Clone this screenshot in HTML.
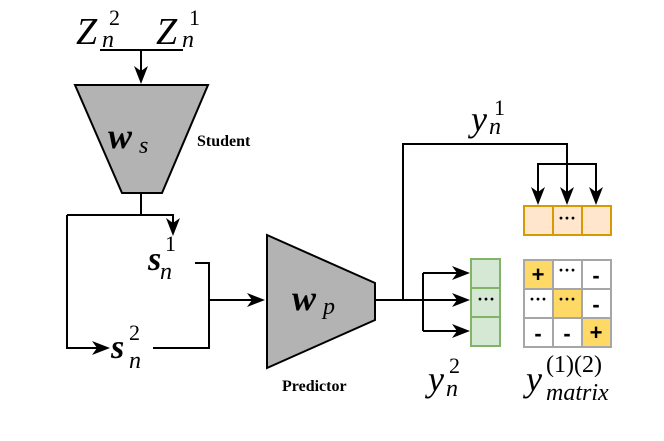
<!DOCTYPE html>
<html><head><style>html,body{margin:0;padding:0;background:#fff}svg{display:block}</style></head><body>
<svg width="664" height="441" viewBox="0 0 664 441" xmlns="http://www.w3.org/2000/svg" font-family="Liberation Serif, serif">
<g stroke="#000" stroke-width="2" fill="none">
<path d="M100,50 H183"/>
<path d="M141,50 V75"/>
<path d="M141,193 V215 M67,215 H173 V226"/>
<path d="M67,215 V348 H100"/>
<path d="M195,263 H209 V348 H153"/>
<path d="M209,300 H255"/>
<path d="M375,300 H423 M403,300 V144 H567 V196"/>
<path d="M538,196 V164 H596 V196"/>
<path d="M423,273 V331"/>
<path d="M423,273 H460 M423,300 H460 M423,331 H460"/>
</g>
<g fill="#000">
<polygon points="134,66 141,84 148,66 141,71"/>
<polygon points="166,218 173,236 180,218 173,223"/>
<polygon points="531,187 538,205 545,187 538,192"/>
<polygon points="560,187 567,205 574,187 567,192"/>
<polygon points="589,187 596,205 603,187 596,192"/>
<polygon points="92,341 110,348 92,355 97,348"/>
<polygon points="247,293 265,300 247,307 252,300"/>
<polygon points="452,266 470,273 452,280 457,273"/>
<polygon points="452,293 470,300 452,307 457,300"/>
<polygon points="452,324 470,331 452,338 457,331"/>
</g>
<polygon points="75,85 208,85 162,193 122,193" fill="#b3b3b3" stroke="#000" stroke-width="2"/>
<polygon points="267,235 375,283 375,320 267,368" fill="#b3b3b3" stroke="#000" stroke-width="2"/>
<g fill="#ffe6cc" stroke="#d79b00" stroke-width="2">
<rect x="524" y="206" width="29" height="29"/><rect x="553" y="206" width="29" height="29"/><rect x="582" y="206" width="29" height="29"/></g>
<g fill="#d5e8d4" stroke="#82b366" stroke-width="2">
<rect x="471" y="259" width="29" height="29"/><rect x="471" y="288" width="29" height="29"/><rect x="471" y="317" width="29" height="29"/></g>
<g stroke="#a6a6a6" stroke-width="2">
<rect x="524" y="260" width="29" height="29" fill="#ffd966"/><rect x="553" y="260" width="29" height="29" fill="#fff"/><rect x="582" y="260" width="29" height="29" fill="#fff"/>
<rect x="524" y="289" width="29" height="29" fill="#fff"/><rect x="553" y="289" width="29" height="29" fill="#ffd966"/><rect x="582" y="289" width="29" height="29" fill="#fff"/>
<rect x="524" y="318" width="29" height="29" fill="#fff"/><rect x="553" y="318" width="29" height="29" fill="#fff"/><rect x="582" y="318" width="29" height="29" fill="#ffd966"/></g>
<g font-family="Liberation Sans, sans-serif" font-size="22" font-weight="bold" text-anchor="middle">
<text x="538" y="282">+</text><text x="596" y="340">+</text>
<text x="596" y="283">-</text><text x="596" y="312">-</text><text x="538" y="341">-</text><text x="567" y="341">-</text>
</g>
<g font-size="18" font-weight="bold" text-anchor="middle">
<text x="567" y="224">···</text><text x="486" y="305">···</text>
<text x="567" y="276">···</text><text x="538" y="305">···</text><text x="567" y="305">···</text>
</g>
<g font-weight="bold" font-size="16">
<text x="197" y="146">Student</text><text x="282" y="391">Predictor</text></g>
<g font-style="italic">
<text x="76" y="44" font-size="38">Z</text><text x="109" y="25" font-size="22" font-style="normal">2</text><text x="102" y="47" font-size="24">n</text>
<text x="156" y="44" font-size="38">Z</text><text x="189" y="25" font-size="22" font-style="normal">1</text><text x="182" y="47" font-size="24">n</text>
<text x="108" y="148" font-size="36" font-weight="bold">w</text><text x="139" y="153" font-size="24">s</text>
<text x="292" y="310" font-size="36" font-weight="bold">w</text><text x="323" y="314" font-size="24">p</text>
<text x="148" y="270" font-size="34" font-weight="bold">s</text><text x="165" y="251" font-size="22" font-style="normal">1</text><text x="160" y="279" font-size="24">n</text>
<text x="111" y="358" font-size="34" font-weight="bold">s</text><text x="129" y="340" font-size="22" font-style="normal">2</text><text x="129" y="368" font-size="24">n</text>
<text x="471" y="131" font-size="36">y</text><text x="494" y="115" font-size="22" font-style="normal">1</text><text x="489" y="134" font-size="24">n</text>
<text x="428" y="391" font-size="36">y</text><text x="449" y="373" font-size="22" font-style="normal">2</text><text x="446" y="396" font-size="24">n</text>
<text x="526" y="391" font-size="36">y</text><text x="546" y="372" font-size="24" font-style="normal">(1)(2)</text><text x="546" y="400" font-size="24">matrix</text>
</g>
</svg>
</body></html>
